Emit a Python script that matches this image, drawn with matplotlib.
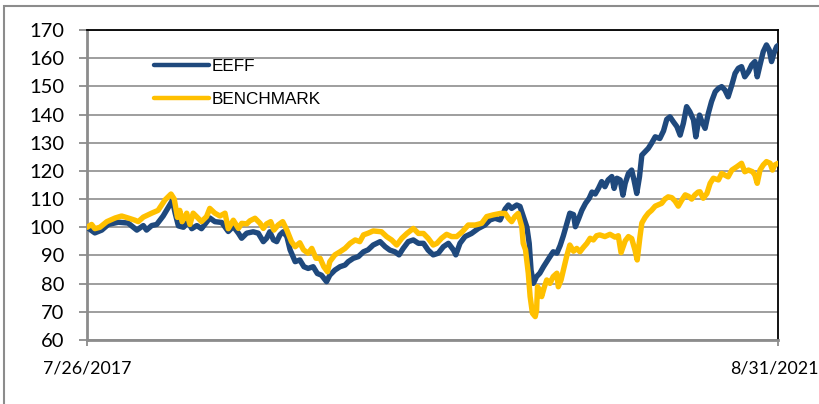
import matplotlib
matplotlib.use("Agg")
import matplotlib.pyplot as plt
import matplotlib.patches as mpatches
import pandas as pd

start_label = "7/26/2017"
end_label = "8/31/2021"
start_date = pd.Timestamp("2017-07-26")
end_date = pd.Timestamp("2021-08-31")

series_names = ["EEFF", "BENCHMARK"]

# days since start date, and index values (start = 100)
eeff_days = [0, 17, 32, 46, 68, 89, 108, 122, 129, 140, 151, 165, 176, 185, 191, 198, 209, 219, 227, 238,
             248, 266, 277, 292, 306, 317, 328, 335, 346, 360, 371, 382, 389, 396, 404, 411, 418, 425, 433,
             440, 451, 461, 470, 479, 490, 499, 508, 519, 526, 537, 548, 559, 566, 577, 588, 599, 609, 620,
             635, 646, 656, 667, 676, 685, 696, 707, 718, 729, 739, 750, 761, 772, 783, 794, 799, 808, 819,
             833, 848, 862, 873, 884, 895, 906, 913, 920, 931, 938, 945, 953, 958, 962, 967, 974, 981, 989,
             996, 1003, 1010, 1018, 1025, 1032, 1039, 1046, 1054, 1058, 1065, 1072, 1080, 1088, 1094, 1101,
             1108, 1115, 1122, 1129, 1137, 1142, 1148, 1155, 1161, 1166, 1173, 1180, 1185, 1191, 1197, 1202,
             1209, 1216, 1223, 1231, 1241, 1249, 1256, 1263, 1270, 1278, 1285, 1292, 1299, 1306, 1314, 1319,
             1327, 1332, 1339, 1346, 1353, 1361, 1368, 1375, 1382, 1389, 1397, 1404, 1411, 1418, 1425, 1433,
             1440, 1447, 1452, 1458, 1465, 1472, 1478, 1483, 1488, 1494, 1497]
eeff_vals = [100, 98, 99, 101, 101.8, 101.5, 99, 100.6, 99, 100.6, 101, 104, 107, 109.5, 105, 100.5, 100,
             102, 99.5, 100.6, 99.5, 103.3, 102, 101.7, 98.5, 100.3, 97.9, 96.1, 97.9, 98.4, 97.9, 94.9,
             96.1, 98.4, 95.5, 94.9, 97.3, 98.4, 96.7, 92, 87.8, 88.4, 86, 85.4, 86, 83.6, 83, 80.7, 83,
             84.8, 86, 86.6, 87.8, 89, 89.6, 91.3, 92, 93.7, 94.9, 93.1, 91.9, 91.3, 90.2, 92.5, 94.9, 95.5,
             94.3, 94.3, 91.9, 90.2, 90.8, 93.1, 94.3, 91.9, 90.2, 94.3, 96.7, 97.8, 99.6, 100.8, 102.6,
             103.2, 102.6, 106.5, 107.9, 106.7, 107.9, 107.4, 104, 100, 94.3, 84.8, 80.1, 82.5, 83.7, 86,
             87.8, 89.6, 91.3, 90.8, 93.5, 97, 101, 105, 104.5, 100.2, 103, 106, 108.5, 110.3, 112.5, 111.8,
             113.8, 116.2, 114.4, 116.8, 118, 113.8, 117.4, 116.8, 111.4, 115.6, 119.1, 120.3, 116.8, 112,
             118, 125.6, 126.8, 128, 129.8, 132.1, 131.5, 134.2, 138.3, 139.2, 137.5, 135.7, 132.7, 136.9,
             142.8, 141, 138.1, 132.1, 139.8, 137.5, 135.1, 140.4, 144.6, 148.1, 149.3, 149.9, 148.7, 146.3,
             150.5, 154.6, 156.4, 157, 153.4, 155.2, 157.6, 158.8, 153.4, 157.6, 162.3, 164.7, 162.9, 158.8,
             161.7, 164.1, 164.5]

bench_days = [0, 10, 17, 28, 43, 61, 75, 89, 104, 111, 122, 140, 154, 169, 182, 189, 196, 201, 206, 216,
              223, 230, 238, 248, 259, 266, 277, 288, 299, 306, 317, 328, 335, 346, 353, 364, 375, 382, 389,
              398, 405, 414, 424, 433, 443, 451, 461, 469, 479, 487, 496, 505, 513, 521, 526, 537, 548, 559,
              570, 581, 591, 599, 609, 620, 638, 649, 660, 671, 682, 693, 707, 718, 729, 739, 750, 758, 768,
              779, 790, 801, 813, 826, 841, 855, 866, 880, 895, 906, 913, 920, 927, 934, 942, 945, 950, 956,
              960, 965, 971, 974, 976, 981, 985, 991, 996, 1003, 1010, 1018, 1021, 1027, 1032, 1039, 1046,
              1054, 1061, 1068, 1075, 1083, 1090, 1097, 1104, 1111, 1122, 1133, 1144, 1151, 1157, 1166, 1173,
              1180, 1187, 1192, 1198, 1202, 1209, 1216, 1223, 1231, 1238, 1245, 1252, 1259, 1267, 1274, 1281,
              1288, 1296, 1303, 1310, 1317, 1324, 1328, 1335, 1343, 1350, 1357, 1368, 1375, 1382, 1389, 1397,
              1408, 1418, 1425, 1433, 1442, 1447, 1452, 1458, 1465, 1472, 1480, 1485, 1490, 1497]
bench_vals = [100, 101, 99.5, 100, 102, 103.3, 104, 103.3, 102.5, 102, 103.6, 105, 106, 109.7, 111.8, 110,
              103.5, 106, 102, 105, 101, 105, 103.7, 102, 103.8, 106.7, 105, 104, 105, 99.5, 102.5, 99.6,
              101.4, 101.2, 102.3, 103.2, 101.4, 99.6, 101.2, 102, 99, 100.8, 102, 99, 94.9, 93.1, 94.5, 92,
              90.8, 92.5, 89, 89, 86, 84.2, 87.8, 90.2, 91.3, 92.5, 94.3, 95.5, 94.9, 97.3, 97.9, 98.7, 98.4,
              96.7, 95.5, 93.7, 96.1, 97.8, 99.6, 97.8, 97.8, 96.1, 93.7, 94.3, 96.1, 97.5, 96.7, 96.7, 98.4,
              100.8, 100.8, 101.4, 103.8, 104.4, 104.9, 104.9, 103.2, 102, 103.8, 104.9, 100.2, 94.3, 92,
              83.7, 75.4, 69.5, 68.3, 70.6, 78.9, 77.7, 75.4, 78.9, 81.3, 80.1, 82.5, 83.7, 78.9, 81.3, 84.8,
              89.6, 93.7, 91.5, 92.5, 91.3, 92.8, 94.3, 96.1, 95.5, 97, 97.3, 96.7, 97.5, 96.5, 97, 91, 95.2,
              96.7, 96, 92, 88.4, 96.7, 101.5, 103.5, 105, 106, 107.5, 108, 108.5, 110, 110.8, 110.5, 109.3,
              107.5, 109.5, 111.5, 111, 110, 111.5, 112.5, 112.6, 110.3, 112, 115.6, 117.4, 116.8, 119.1,
              118.5, 117.9, 120.3, 121.5, 122.7, 119.7, 120.3, 119.7, 118.5, 115.6, 120.3, 122.1, 123.3,
              122.7, 120.3, 122.1, 122.7]

y_ticks = [60, 70, 80, 90, 100, 110, 120, 130, 140, 150, 160, 170]

blue = "#1F497D"
gold = "#FFC000"

fig = plt.figure(figsize=(8.2, 4.04), dpi=100)
fig.patch.set_facecolor("white")

# outer frame (only top and left visible in the image)
frame = mpatches.Rectangle((4.5 / 820, -0.2), 1.2, 1.2 - 5.5 / 404, transform=fig.transFigure,
                           fill=False, edgecolor="#8C8C8C", linewidth=1.5, zorder=-5)
fig.patches.append(frame)

ax = fig.add_axes([87 / 820, (404 - 340) / 404, 691 / 820, 310 / 404])

eeff_x = [start_date + pd.Timedelta(days=d) for d in eeff_days]
bench_x = [start_date + pd.Timedelta(days=d) for d in bench_days]

ax.plot(eeff_x, eeff_vals, color=blue, lw=3.9, solid_joinstyle="round", solid_capstyle="round",
        label=series_names[0], zorder=3)
ax.plot(bench_x, bench_vals, color=gold, lw=3.9, solid_joinstyle="round", solid_capstyle="round",
        label=series_names[1], zorder=4)

ax.set_xlim(start_date, end_date)
ax.set_ylim(60, 170)
ax.set_yticks(y_ticks)
ax.set_yticklabels([str(t) for t in y_ticks], fontfamily="Lato", fontsize=14.5)
ax.set_xticks([start_date, end_date])
ax.set_xticklabels([start_label, ""], fontfamily="Lato", fontsize=12.8)
# end date label, kept inside the image as in the reference
ax.annotate(end_label, xy=(1, 0), xycoords="axes fraction", xytext=(29, -14.8),
            textcoords="offset points", ha="right", va="top", fontfamily="Lato", fontsize=12.8,
            annotation_clip=False)

ax.grid(axis="y", color="#969696", linewidth=1.3)
ax.set_axisbelow(True)

for side in ["top", "right"]:
    ax.spines[side].set_color("black")
    ax.spines[side].set_linewidth(1.3)
for side in ["left", "bottom"]:
    ax.spines[side].set_color("#8C8C8C")
    ax.spines[side].set_linewidth(2.0)

ax.tick_params(axis="y", direction="out", length=6, width=1.3, color="#8C8C8C", pad=10.5,
               labelcolor="black")
ax.tick_params(axis="x", direction="out", length=4.5, width=1.3, color="#8C8C8C", pad=10,
               labelcolor="black")

leg = ax.legend(loc="upper left", bbox_to_anchor=(0.097, 0.905), frameon=False,
                prop={"family": "Liberation Sans", "size": 12.3}, handlelength=3.2,
                handletextpad=0.2, labelspacing=1.05, borderpad=0, borderaxespad=0)
for h in leg.get_lines():
    h.set_linewidth(3.2)
    h.set_solid_capstyle("round")

fig.savefig("out.png", dpi=100, facecolor="white")
